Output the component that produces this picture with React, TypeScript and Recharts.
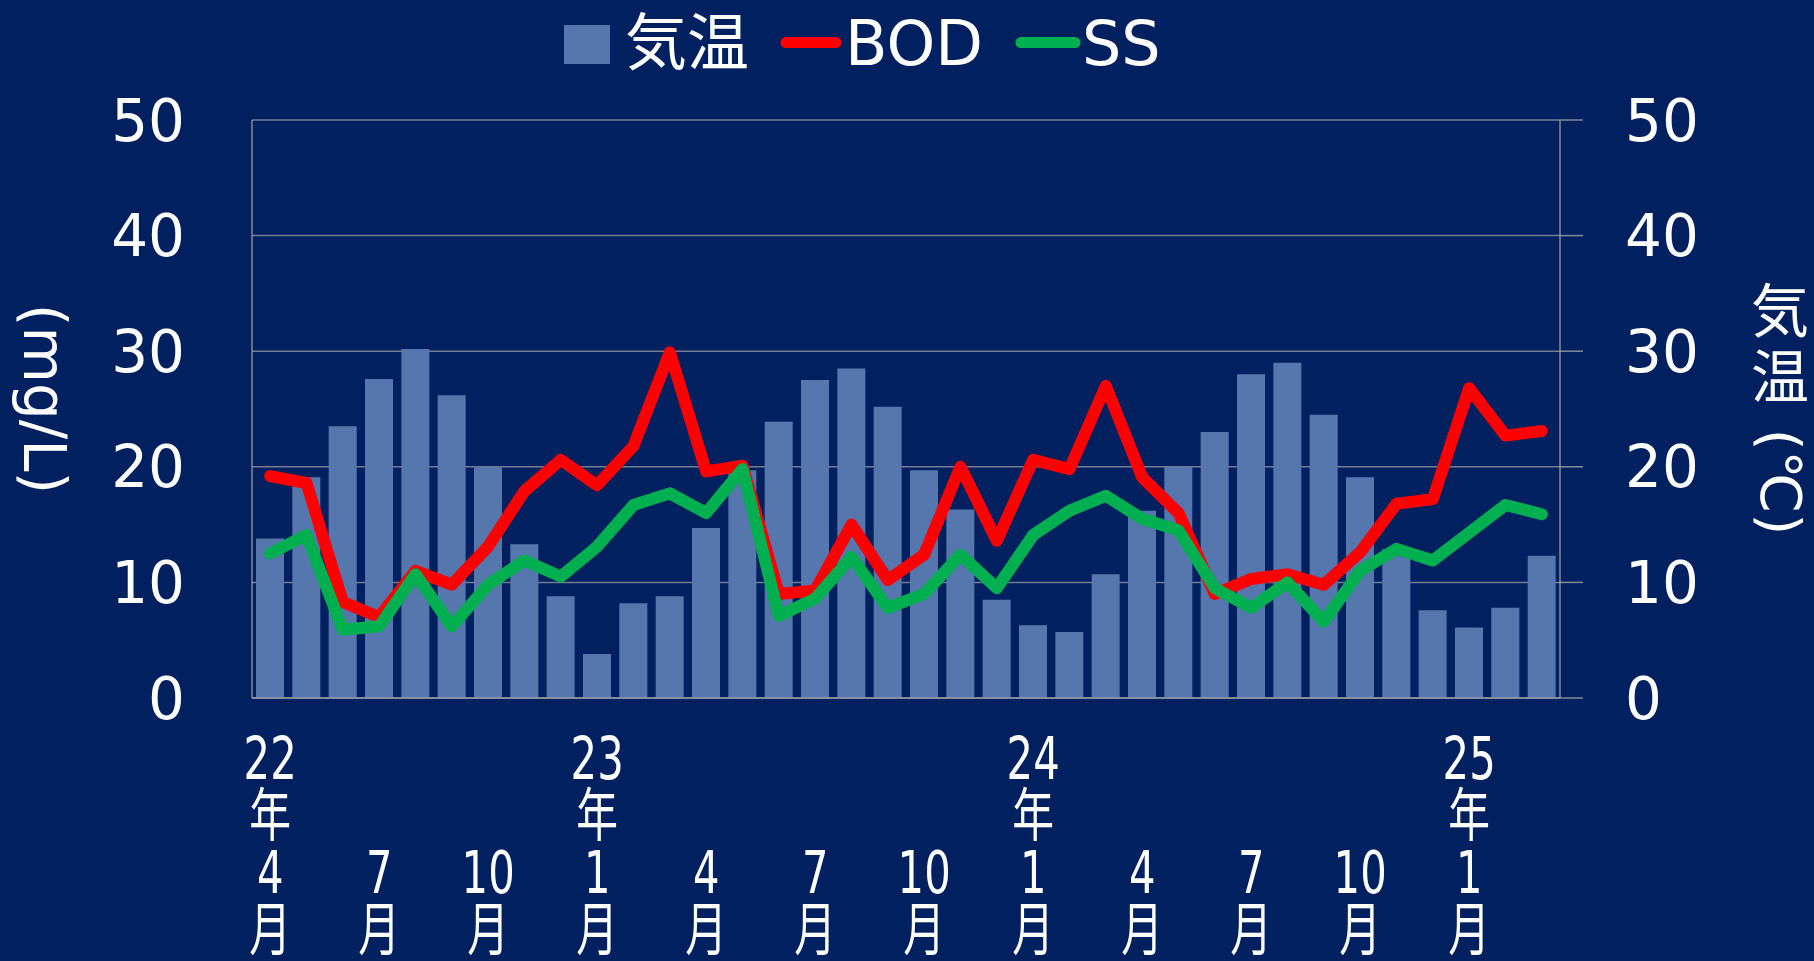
import React from 'react';
import { ComposedChart, Bar, Line, XAxis, YAxis, CartesianGrid, Legend } from 'recharts';

// ---- data ----
const months = [
  '22年4月', '22年5月', '22年6月', '22年7月', '22年8月', '22年9月', '22年10月', '22年11月', '22年12月',
  '23年1月', '23年2月', '23年3月', '23年4月', '23年5月', '23年6月', '23年7月', '23年8月', '23年9月',
  '23年10月', '23年11月', '23年12月', '24年1月', '24年2月', '24年3月', '24年4月', '24年5月', '24年6月',
  '24年7月', '24年8月', '24年9月', '24年10月', '24年11月', '24年12月', '25年1月', '25年2月', '25年3月',
];
const temperature = [
  13.8, 19.1, 23.5, 27.6, 30.2, 26.2, 20.0, 13.3, 8.8,
  3.8, 8.2, 8.8, 14.7, 19.7, 23.9, 27.5, 28.5, 25.2,
  19.7, 16.3, 8.5, 6.3, 5.7, 10.7, 16.2, 20.0, 23.0,
  28.0, 29.0, 24.5, 19.1, 12.9, 7.6, 6.1, 7.8, 12.3,
];
const bod = [
  19.2, 18.6, 8.3, 7.0, 11.0, 9.8, 13.1, 17.9, 20.6,
  18.4, 21.8, 29.9, 19.6, 20.1, 9.0, 9.3, 15.0, 10.2,
  12.4, 20.0, 13.6, 20.6, 19.8, 27.0, 19.1, 16.0, 9.0,
  10.3, 10.7, 9.8, 12.6, 16.8, 17.2, 26.8, 22.7, 23.1,
];
const ss = [
  12.5, 14.1, 5.9, 6.2, 10.7, 6.2, 9.8, 11.9, 10.5,
  13.1, 16.7, 17.7, 16.0, 19.8, 7.1, 8.6, 12.2, 7.8,
  9.0, 12.4, 9.5, 14.1, 16.2, 17.5, 15.5, 14.5, 9.5,
  7.8, 10.0, 6.6, 11.0, 12.9, 11.9, 14.3, 16.7, 15.9,
];
const yTicks = [0, 10, 20, 30, 40, 50];
const seriesNames = { temp: '気温', bod: 'BOD', ss: 'SS' };
const leftTitle = '(mg/L)';
const rightTitleUpright = ['気', '温'];
const rightTitleRotated = '(℃)';

const data = months.map((m, i) => ({ month: m, temp: temperature[i], bod: bod[i], ss: ss[i] }));

// ---- style ----
const BG = '#002060';
const BAR = '#5677AE';
const RED = '#FF0000';
const GREEN = '#00B050';
const GRID = '#a6a6a6';
const FONT = '"DejaVu Sans", "Noto Sans CJK JP", sans-serif';
const CJK = '"Noto Sans CJK JP", "DejaVu Sans", sans-serif';

const XTick = (props: any) => {
  const { x, y, payload } = props;
  const value: string = payload.value;
  const m = /^(\d+)年(\d+)月$/.exec(value);
  if (!m) return null;
  const yy = m[1];
  const mm = m[2];
  const showYear = value === months[0] || mm === '1';
  const lines = showYear ? [yy, '年', mm, '月'] : [mm, '月'];
  const pitch = 57;
  const lastBase = 252;
  return (
    <g transform={`translate(${x},${y})`}>
      {lines.map((t, i) => (
        <text
          key={i}
          transform={`translate(0,${lastBase - (lines.length - 1 - i) * pitch}) scale(0.72,1)`}
          textAnchor="middle"
          fill="#ffffff"
          fontSize={58}
          fontFamily={FONT}
        >
          {t}
        </text>
      ))}
    </g>
  );
};

const renderLegend = () => (
  <svg width={1814} height={120} style={{ display: 'block' }}>
    <rect x={564} y={25} width={46} height={39} fill={BAR} />
    <text x={625} y={65} fill="#fff" fontSize={62} fontFamily={CJK}>{seriesNames.temp}</text>
    <line x1={786} x2={836} y1={42.5} y2={42.5} stroke={RED} strokeWidth={11} strokeLinecap="round" />
    <text x={845} y={65} fill="#fff" fontSize={62} fontFamily={FONT}>{seriesNames.bod}</text>
    <line x1={1021} x2={1075} y1={42.5} y2={42.5} stroke={GREEN} strokeWidth={11} strokeLinecap="round" />
    <text x={1082} y={65} fill="#fff" fontSize={62} fontFamily={FONT}>{seriesNames.ss}</text>
  </svg>
);

const LeftTitle = (props: any) => {
  const vb = props.viewBox || { x: 0, y: 120 };
  const cx = vb.x + 44;
  const cy = vb.y + 279;
  return (
    <text
      transform={`translate(${cx},${cy}) rotate(90)`}
      textAnchor="middle"
      dominantBaseline="central"
      fill="#fff"
      fontSize={58}
      fontFamily={FONT}
    >
      {leftTitle}
    </text>
  );
};

const RightTitle = (props: any) => {
  const vb = props.viewBox || { x: 1560, y: 120 };
  const cx = vb.x + 220;
  return (
    <g>
      {rightTitleUpright.map((c, i) => (
        <text key={c} x={cx} y={vb.y + 212 + i * 66} textAnchor="middle" fill="#fff" fontSize={58} fontFamily={CJK}>
          {c}
        </text>
      ))}
      <text
        transform={`translate(${cx},${vb.y + 362}) rotate(90)`}
        textAnchor="middle"
        dominantBaseline="central"
        fill="#fff"
        fontSize={56}
        fontFamily={FONT}
      >
        {rightTitleRotated}
      </text>
    </g>
  );
};

export default function App() {
  return (
    <div style={{ position: 'fixed', left: 0, top: 0, width: 1814, height: 961, background: BG, overflow: 'hidden' }}>
      <ComposedChart width={1814} height={961} data={data} margin={{ top: 0, right: 0, bottom: 0, left: 0 }}>
        <Legend verticalAlign="top" align="center" layout="horizontal" content={renderLegend} />
        <CartesianGrid yAxisId="left" vertical={false} stroke={GRID} strokeOpacity={0.7} strokeWidth={1.5} />
        <XAxis
          dataKey="month"
          height={263}
          interval={2}
          tickLine={false}
          tickSize={0}
          tickMargin={0}
          axisLine={{ stroke: GRID, strokeOpacity: 0.8, strokeWidth: 1.5 }}
          tick={<XTick />}
        />
        <YAxis
          yAxisId="left"
          orientation="left"
          width={252}
          domain={[0, 50]}
          ticks={yTicks}
          tickLine={false}
          tickSize={0}
          tickMargin={67}
          axisLine={{ stroke: GRID, strokeOpacity: 0.8, strokeWidth: 1.5 }}
          tick={{ fill: '#ffffff', fontSize: 58, fontFamily: FONT }}
          label={{ content: <LeftTitle /> }}
        />
        <YAxis
          yAxisId="right"
          orientation="right"
          width={254}
          domain={[0, 50]}
          ticks={yTicks}
          tickSize={23}
          tickMargin={42}
          tickLine={{ stroke: GRID, strokeOpacity: 0.8, strokeWidth: 1.5 }}
          axisLine={{ stroke: GRID, strokeOpacity: 0.8, strokeWidth: 1.5 }}
          tick={{ fill: '#ffffff', fontSize: 58, fontFamily: FONT, textAnchor: 'start' }}
          label={{ content: <RightTitle /> }}
        />
        <Bar yAxisId="right" dataKey="temp" name={seriesNames.temp} fill={BAR} barSize={28} isAnimationActive={false} />
        <Line
          yAxisId="left"
          type="linear"
          dataKey="bod"
          name={seriesNames.bod}
          stroke={RED}
          strokeWidth={12}
          strokeLinejoin="round"
          strokeLinecap="round"
          dot={false}
          activeDot={false}
          isAnimationActive={false}
        />
        <Line
          yAxisId="left"
          type="linear"
          dataKey="ss"
          name={seriesNames.ss}
          stroke={GREEN}
          strokeWidth={12}
          strokeLinejoin="round"
          strokeLinecap="round"
          dot={false}
          activeDot={false}
          isAnimationActive={false}
        />
      </ComposedChart>
    </div>
  );
}
